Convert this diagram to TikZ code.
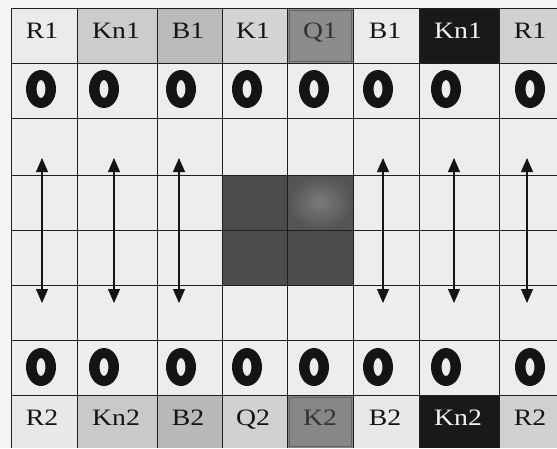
\documentclass[tikz,border=0pt]{standalone}
\usepackage{fontspec}
\setmainfont{Liberation Serif}
\usetikzlibrary{arrows.meta}
\begin{document}
\begin{tikzpicture}[x=1pt,y=-1pt,
  gridline/.style={draw=black!88,line width=0.9pt},
  piece/.style={font=\fontsize{23.5}{25}\selectfont,anchor=base,inner sep=0pt,text=black!92},
  ring/.style={fill=black!92,even odd rule},
  move/.style={{Triangle[width=12pt,length=14pt]}-{Triangle[width=12pt,length=14pt]},line width=1.1pt,draw=black!92}]
\useasboundingbox (0,0) rectangle (557,448);
\fill[black!4] (0,0) rectangle (557,448);
\fill[black!7] (11,8) rectangle (557,448);
% top row cells
\fill[black!8]  (11,8) rectangle (77,63);
\fill[black!20] (77,8) rectangle (157,63);
\fill[black!27] (157,8) rectangle (222,63);
\fill[black!17] (222,8) rectangle (287,63);
\fill[black!45] (287,8) rectangle (353,63);
\draw[black!60,line width=0.8pt] (289,10) rectangle (351,61);
\fill[black!8]  (353,8) rectangle (419,63);
\fill[black!90] (419,8) rectangle (499,63);
\fill[black!18] (499,8) rectangle (557,63);
% bottom row cells
\fill[black!9]  (11,395) rectangle (77,448);
\fill[black!21] (77,395) rectangle (157,448);
\fill[black!28] (157,395) rectangle (222,448);
\fill[black!18] (222,395) rectangle (287,448);
\fill[black!47] (287,395) rectangle (353,448);
\draw[black!60,line width=0.8pt] (289,397) rectangle (351,446);
\fill[black!9]  (353,395) rectangle (419,448);
\fill[black!90] (419,395) rectangle (499,448);
\fill[black!18] (499,395) rectangle (557,448);
% dark centre block
\fill[black!70] (222,175) rectangle (353,285);
\shade[inner color=black!52,outer color=black!67] (287,175) rectangle (353,230);
% grid
\foreach \x in {11,77,157,222,287,353,419,499} \draw[gridline] (\x,8) -- (\x,448);
\foreach \y in {8,63,118,175,230,285,340,395} \draw[gridline] (11,\y) -- (557,\y);
% labels top
\node[piece] (r1a) at (42,38) {\scalebox{1.18}[1]{R1}};
\node[piece] (n1a) at (116,38) {\scalebox{1.18}[1]{Kn1}};
\node[piece] (b1a) at (188,38) {\scalebox{1.18}[1]{B1}};
\node[piece] (k1)  at (253,38) {\scalebox{1.18}[1]{K1}};
\node[piece,text=black!80] (q1) at (320,38) {\scalebox{1.18}[1]{Q1}};
\node[piece] (b1b) at (385,38) {\scalebox{1.18}[1]{B1}};
\node[piece,text=black!5] (n1b) at (458,38) {\scalebox{1.18}[1]{Kn1}};
\node[piece] (r1b) at (530,38) {\scalebox{1.18}[1]{R1}};
% labels bottom
\node[piece] (r2a) at (42,425) {\scalebox{1.18}[1]{R2}};
\node[piece] (n2a) at (116,425) {\scalebox{1.18}[1]{Kn2}};
\node[piece] (b2a) at (188,425) {\scalebox{1.18}[1]{B2}};
\node[piece] (q2)  at (253,425) {\scalebox{1.18}[1]{Q2}};
\node[piece,text=black!80] (k2) at (320,425) {\scalebox{1.18}[1]{K2}};
\node[piece] (b2b) at (385,425) {\scalebox{1.18}[1]{B2}};
\node[piece,text=black!5] (n2b) at (458,425) {\scalebox{1.18}[1]{Kn2}};
\node[piece] (r2b) at (530,425) {\scalebox{1.18}[1]{R2}};
% pawns
\foreach \x in {41,104,181,247,314,378,446,530} {
  \fill[ring] (\x,89) ellipse (15 and 19) (\x,89) ellipse (4.5 and 9);
  \fill[ring] (\x,367) ellipse (15 and 19) (\x,367) ellipse (4.5 and 9);
}
% arrows
\foreach \n/\x in {a/42,b/114,c/179,d/383,e/454,f/527} {
  \coordinate (t\n) at (\x,158);
  \coordinate (u\n) at (\x,303);
  \draw[move] (u\n) -- (t\n);
}
\end{tikzpicture}
\end{document}
